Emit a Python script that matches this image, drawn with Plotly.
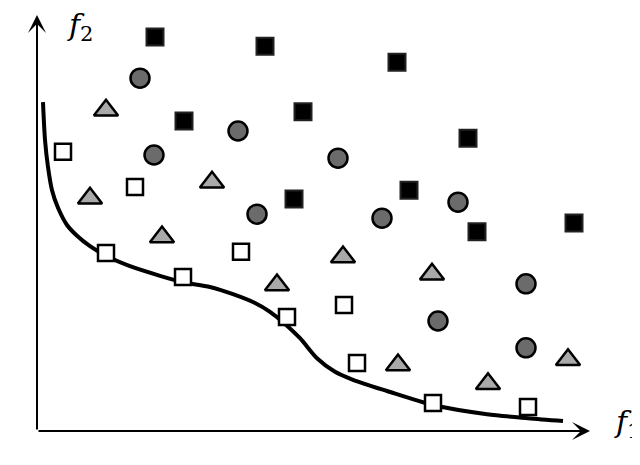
import plotly.graph_objects as go

# objective values (f1, f2)
black_f1 = [2.36, 4.56, 7.20, 5.32, 2.94, 8.62, 7.44, 5.14, 10.74, 8.80]
black_f2 = [9.85, 9.62, 9.22, 7.98, 7.75, 7.32, 6.02, 5.80, 5.20, 4.98]

circle_f1 = [2.06, 4.02, 2.34, 6.02, 8.42, 4.40, 6.90, 9.78, 8.02, 9.78]
circle_f2 = [8.82, 7.50, 6.90, 6.82, 5.72, 5.42, 5.32, 3.68, 2.75, 2.08]

tri_f1 = [1.38, 3.50, 1.06, 2.50, 6.12, 4.80, 7.90, 10.62, 7.22, 9.02]
tri_f2 = [8.02, 6.22, 5.82, 4.85, 4.35, 3.65, 3.92, 1.78, 1.65, 1.18]

white_f1 = [0.52, 1.96, 1.38, 4.08, 2.92, 6.14, 5.00, 6.40, 7.92, 9.82]
white_f2 = [6.98, 6.10, 4.45, 4.48, 3.85, 3.15, 2.85, 1.70, 0.70, 0.60]

# pareto front curve
front_f1 = [0.12, 0.16, 0.22, 0.30, 0.42, 0.60, 0.80, 1.06, 1.38, 1.86, 2.46,
            2.92, 3.46, 3.92, 4.36, 4.66, 4.92, 5.26, 5.60, 5.96, 6.32, 7.00,
            7.92, 9.00, 9.82, 10.52]
front_f2 = [8.22, 7.28, 6.60, 6.02, 5.58, 5.15, 4.88, 4.62, 4.38, 4.12, 3.88,
            3.72, 3.60, 3.42, 3.20, 2.98, 2.72, 2.32, 1.82, 1.48, 1.28, 1.00,
            0.65, 0.42, 0.32, 0.25]

fig = go.Figure()

fig.add_trace(go.Scatter(
    x=front_f1, y=front_f2, mode="lines",
    line={"color": "black", "width": 4, "shape": "spline", "smoothing": 0.8},
))

fig.add_trace(go.Scatter(
    x=black_f1, y=black_f2, mode="markers",
    marker={"symbol": "square", "size": 17, "color": "black",
            "line": {"color": "#222222", "width": 2}},
))
fig.add_trace(go.Scatter(
    x=circle_f1, y=circle_f2, mode="markers",
    marker={"symbol": "circle", "size": 19, "color": "#6b6b6b",
            "line": {"color": "black", "width": 2.5}},
))
fig.add_trace(go.Scatter(
    x=tri_f1, y=tri_f2, mode="markers",
    marker={"symbol": "triangle-up", "size": 21, "color": "#a9a9a9",
            "line": {"color": "black", "width": 2.5}},
))
fig.add_trace(go.Scatter(
    x=white_f1, y=white_f2, mode="markers",
    marker={"symbol": "square", "size": 16, "color": "white",
            "line": {"color": "black", "width": 2.5}},
))

# axes drawn as arrows
arrow_style = dict(text="", showarrow=True, axref="x", ayref="y",
                   arrowhead=3, arrowsize=1.5, arrowwidth=2, arrowcolor="black")
fig.add_annotation(x=11.06, y=0, ax=0, ay=0, **arrow_style)
fig.add_annotation(x=0, y=10.4, ax=0, ay=0, **arrow_style)

label_font = {"family": "DejaVu Serif", "size": 30, "color": "black"}
fig.add_annotation(x=0.86, y=10.12, text="<i>f</i><sub>2</sub>",
                   showarrow=False, font=label_font)
fig.add_annotation(x=11.8, y=0.2, text="<i>f</i><sub>1</sub>",
                   showarrow=False, font=label_font)

# caption, cut at the bottom of the picture
fig.add_annotation(
    xref="paper", yref="paper", x=-0.02, y=0.028, xanchor="left", yanchor="top",
    text="Figure 1: MOEA population ranked according to the dominance of individuals",
    showarrow=False, font={"family": "Liberation Serif", "size": 21, "color": "#555555"},
)

# page body adds an 8px offset, so ranges are shifted to keep the origin in place
fig.update_xaxes(visible=False, range=[-0.58, 12.22])
fig.update_yaxes(visible=False, range=[-1.05, 10.575])
fig.update_layout(
    width=640, height=465,
    margin={"l": 0, "r": 0, "t": 0, "b": 0},
    plot_bgcolor="white", paper_bgcolor="white",
    showlegend=False,
)

fig.write_html("out.html")
